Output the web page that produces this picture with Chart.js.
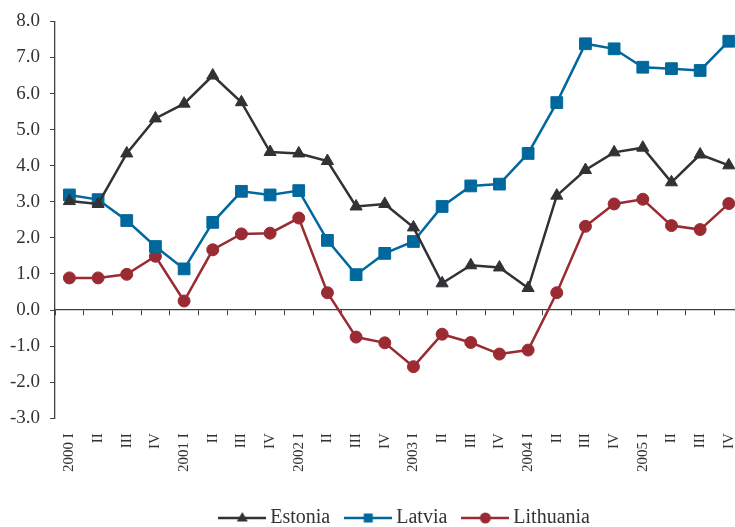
<!DOCTYPE html>
<html>
<head>
<meta charset="utf-8">
<script src="https://cdn.jsdelivr.net/npm/chart.js@4/dist/chart.umd.min.js"></script>
<style>
  html, body { margin: 0; padding: 0; background: #fff; overflow: hidden; }
  #wrap { position: relative; width: 762px; height: 538px; }
</style>
</head>
<body>
<div id="wrap"><canvas id="chart"></canvas></div>
<script>
// Quarterly categories, 2000 Q1 – 2005 Q4
const quarters = [
  '2000 I', 'II', 'III', 'IV',
  '2001 I', 'II', 'III', 'IV',
  '2002 I', 'II', 'III', 'IV',
  '2003 I', 'II', 'III', 'IV',
  '2004 I', 'II', 'III', 'IV',
  '2005 I', 'II', 'III', 'IV'
];

const estonia = [3.02, 2.94, 4.34, 5.31, 5.72, 6.50, 5.76, 4.38, 4.34, 4.13, 2.87, 2.94,
                 2.29, 0.74, 1.24, 1.18, 0.61, 3.17, 3.88, 4.37, 4.50, 3.54, 4.31, 4.01];
const latvia = [3.19, 3.06, 2.48, 1.76, 1.14, 2.43, 3.29, 3.19, 3.31, 1.93, 0.98, 1.57,
                1.90, 2.87, 3.44, 3.49, 4.34, 5.75, 7.38, 7.24, 6.73, 6.69, 6.64, 7.45];
const lithuania = [0.89, 0.89, 0.99, 1.49, 0.25, 1.67, 2.11, 2.13, 2.55, 0.48, -0.75, -0.91,
                   -1.57, -0.67, -0.90, -1.22, -1.11, 0.48, 2.32, 2.94, 3.07, 2.34, 2.23, 2.95];

const seriesNames = ['Estonia', 'Latvia', 'Lithuania'];
const yMin = -3, yMax = 8, yStep = 1;

const COLORS = ['#323236', '#00689d', '#9b2b33'];
const STYLES = ['triangle', 'rect', 'circle'];
const RADII = [7, 8.3, 6];
const SERIF = '"Liberation Serif", "Times New Roman", serif';
const AXIS = '#404040';

// Small line-with-marker swatches for the legend
function legendIcon(color, style) {
  const c = document.createElement('canvas');
  c.width = 48; c.height = 18;
  const g = c.getContext('2d');
  g.strokeStyle = color; g.fillStyle = color; g.lineWidth = 2.5;
  g.beginPath(); g.moveTo(0, 9); g.lineTo(48, 9); g.stroke();
  g.beginPath();
  if (style === 'triangle') {
    g.moveTo(24, 3); g.lineTo(29.5, 12.5); g.lineTo(18.5, 12.5); g.closePath();
  } else if (style === 'rect') {
    g.rect(19.5, 4.5, 9, 9);
  } else {
    g.arc(24, 9, 5.5, 0, Math.PI * 2);
  }
  g.fill();
  return c;
}
const icons = COLORS.map((c, i) => legendIcon(c, STYLES[i]));

// Nudge the legend row a little to the right of the plot centre
const legendShift = {
  id: 'legendShift',
  afterLayout(chart) {
    if (chart.legend) { chart.legend.left += 8; chart.legend.right += 8; }
  }
};

const values = [estonia, latvia, lithuania];
const datasets = values.map((v, i) => ({
  label: seriesNames[i],
  data: v,
  xAxisID: 'x',
  yAxisID: 'y',
  borderColor: COLORS[i],
  backgroundColor: COLORS[i],
  borderWidth: 2.5,
  pointStyle: STYLES[i],
  pointRadius: RADII[i],
  pointBorderWidth: 1,
  pointBackgroundColor: COLORS[i],
  pointBorderColor: COLORS[i],
  tension: 0,
  clip: false
}));

new Chart(document.getElementById('chart'), {
  type: 'line',
  data: { labels: quarters, datasets },
  plugins: [legendShift],
  options: {
    responsive: true,
    maintainAspectRatio: false,
    animation: false,
    layout: { padding: { left: 0, right: 8.6, top: 6.4, bottom: 0 } },
    scales: {
      x: {
        type: 'category',
        position: { y: 0 },
        offset: true,
        grid: { display: true, drawOnChartArea: false, drawTicks: true, tickLength: 5, offset: true, color: AXIS, lineWidth: 1 },
        border: { display: true, color: AXIS, width: 1.3 },
        ticks: { display: false }
      },
      x2: {
        type: 'category',
        position: 'bottom',
        offset: true,
        labels: quarters,
        grid: { display: false, drawTicks: false },
        border: { display: false },
        ticks: {
          autoSkip: false, minRotation: 90, maxRotation: 90, padding: 15,
          color: '#333', font: { family: SERIF, size: 15 }
        },
        afterFit(scale) { scale.height += 1; }
      },
      y: {
        min: yMin, max: yMax,
        ticks: {
          stepSize: yStep, padding: 10, color: '#333',
          font: { family: SERIF, size: 19 },
          callback: v => Number(v).toFixed(1)
        },
        grid: { drawOnChartArea: false, drawTicks: true, tickLength: 5, color: AXIS },
        border: { display: true, color: AXIS, width: 1.3 }
      }
    },
    plugins: {
      tooltip: { enabled: false },
      legend: {
        position: 'bottom',
        fullSize: false,
        labels: {
          usePointStyle: true,
          pointStyleWidth: 36,
          padding: 20,
          color: '#333',
          font: { family: SERIF, size: 20 },
          generateLabels(chart) {
            const items = Chart.defaults.plugins.legend.labels.generateLabels(chart);
            items.forEach((it, i) => { it.pointStyle = icons[i]; });
            return items;
          }
        }
      }
    }
  }
});
</script>
</body>
</html>
